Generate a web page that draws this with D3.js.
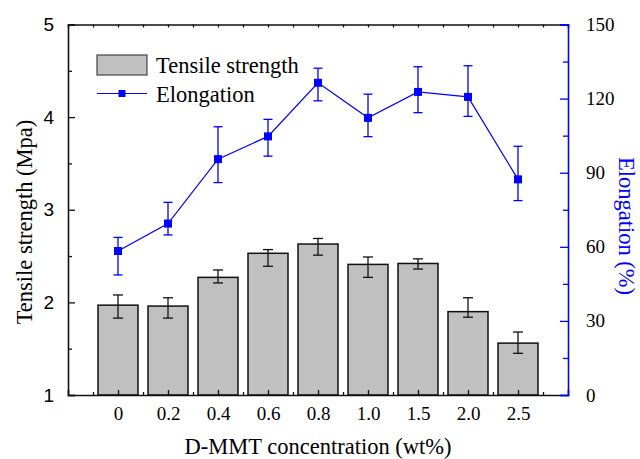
<!DOCTYPE html>
<meta charset="utf-8">
<style>
body { margin: 0; background: #fff; }
svg { display: block; }
</style>
<body>
<svg width="640" height="459"></svg>
<script src="https://d3js.org/d3.v7.min.js"></script>
<script>
// data
var concentrations = ["0", "0.2", "0.4", "0.6", "0.8", "1.0", "1.5", "2.0", "2.5"];

var tensile     = [1.97, 1.96, 2.27, 2.53, 2.63, 2.41, 2.42, 1.90, 1.56];
var tensileHigh = [2.08, 2.05, 2.35, 2.57, 2.69, 2.49, 2.47, 2.05, 1.68];
var tensileLow  = [1.83, 1.83, 2.21, 2.39, 2.51, 2.27, 2.36, 1.84, 1.45];

var elongation     = [58.3, 69.4, 95.5, 104.7, 126.4, 112.2, 122.7, 120.7, 87.3];
var elongationHigh = [63.8, 78.0, 108.6, 111.6, 132.3, 121.8, 132.9, 133.3, 100.7];
var elongationLow  = [48.6, 64.8, 86.0, 96.7, 119.1, 104.6, 114.3, 112.8, 78.7];

var leftTicks = [1, 2, 3, 4, 5];
var rightTicks = [0, 30, 60, 90, 120, 150];

var SERIF = "Liberation Serif";
var SANS = "Liberation Sans";

var margin = {top: 24.5, right: 72, bottom: 64, left: 68};
var width = 640 - margin.left - margin.right,
    height = 459 - margin.top - margin.bottom;

var blue = "#0000ff";

var svg = d3.select("svg");
var g = svg.append("g")
    .attr("transform", "translate(" + margin.left + "," + margin.top + ")");

// categories sit on integer positions, one empty slot at each end
var x = d3.scaleLinear().domain([-1, concentrations.length]).range([0, width]);
var yL = d3.scaleLinear().domain([1, 5]).range([height, 0]);
var yR = d3.scaleLinear().domain([0, 150]).range([height, 0]);

var idx = d3.range(concentrations.length);
var halves = d3.range(-0.5, concentrations.length, 1);

// bars
var barW = (x(1) - x(0)) * 0.8;
g.selectAll(".bar")
  .data(idx)
  .enter().append("rect")
    .attr("class", "bar")
    .attr("x", function(i) { return x(i) - barW / 2; })
    .attr("y", function(i) { return yL(tensile[i]); })
    .attr("width", barW)
    .attr("height", function(i) { return yL(1) - yL(tensile[i]); })
    .style("fill", "#c0c0c0")
    .style("stroke", "#111")
    .style("stroke-width", 1.5);

// bar error bars
var eb = g.selectAll(".terr").data(idx).enter().append("g").attr("class", "terr")
    .style("stroke", "#111").style("stroke-width", 1.3);
eb.append("line")
    .attr("x1", function(i) { return x(i); }).attr("x2", function(i) { return x(i); })
    .attr("y1", function(i) { return yL(tensileLow[i]); })
    .attr("y2", function(i) { return yL(tensileHigh[i]); });
eb.append("line")
    .attr("x1", function(i) { return x(i) - 5; }).attr("x2", function(i) { return x(i) + 5; })
    .attr("y1", function(i) { return yL(tensileHigh[i]); })
    .attr("y2", function(i) { return yL(tensileHigh[i]); });
eb.append("line")
    .attr("x1", function(i) { return x(i) - 5; }).attr("x2", function(i) { return x(i) + 5; })
    .attr("y1", function(i) { return yL(tensileLow[i]); })
    .attr("y2", function(i) { return yL(tensileLow[i]); });

// axes: ticks point inward
var bottomMinor = d3.axisBottom(x).tickValues(halves).tickSize(-3).tickFormat("");
var bottomMajor = d3.axisBottom(x).tickValues(idx).tickSize(-5).tickPadding(12)
    .tickFormat(function(i) { return concentrations[i]; });
var topAxis = d3.axisTop(x).tickValues(halves.concat(idx)).tickSize(-3).tickFormat("");
var leftMajor = d3.axisLeft(yL).tickValues(leftTicks).tickSize(-7).tickPadding(14)
    .tickFormat(d3.format("d"));
var leftMinor = d3.axisLeft(yL).tickValues([1.5, 2.5, 3.5, 4.5]).tickSize(-4).tickFormat("");
var rightMajor = d3.axisRight(yR).tickValues(rightTicks).tickSize(-8).tickPadding(18)
    .tickFormat(d3.format("d"));
var rightMinor = d3.axisRight(yR).tickValues([15, 45, 75, 105, 135]).tickSize(-5).tickFormat("");

function styleAxis(sel, color, family) {
  sel.attr("font-family", family || SERIF).attr("font-size", 19);
  sel.select(".domain").style("stroke", color).style("stroke-width", 1.6);
  sel.selectAll(".tick line").style("stroke", color).style("stroke-width", 1.3);
  sel.selectAll(".tick text").style("fill", "#000");
}

var gb = g.append("g").attr("transform", "translate(0," + height + ")").call(bottomMajor);
gb.call(styleAxis, "#111", SERIF);
var gb2 = g.append("g").attr("transform", "translate(0," + height + ")").call(bottomMinor);
gb2.call(styleAxis, "#111");
gb2.select(".domain").remove();

var gt = g.append("g").call(topAxis);
gt.call(styleAxis, "#111");

var gl = g.append("g").call(leftMajor);
gl.call(styleAxis, "#111", SANS);
var gl2 = g.append("g").call(leftMinor);
gl2.call(styleAxis, "#111");
gl2.select(".domain").remove();

var gr = g.append("g").attr("transform", "translate(" + width + ",0)").call(rightMajor);
gr.call(styleAxis, blue, SERIF);
var gr2 = g.append("g").attr("transform", "translate(" + width + ",0)").call(rightMinor);
gr2.call(styleAxis, blue);
gr2.select(".domain").remove();

// elongation line with error bars
var line = d3.line()
    .x(function(i) { return x(i); })
    .y(function(i) { return yR(elongation[i]); });

var ee = g.selectAll(".eerr").data(idx).enter().append("g").attr("class", "eerr")
    .style("stroke", blue).style("stroke-width", 1.3);
ee.append("line")
    .attr("x1", function(i) { return x(i); }).attr("x2", function(i) { return x(i); })
    .attr("y1", function(i) { return yR(elongationLow[i]); })
    .attr("y2", function(i) { return yR(elongationHigh[i]); });
ee.append("line")
    .attr("x1", function(i) { return x(i) - 4.5; }).attr("x2", function(i) { return x(i) + 4.5; })
    .attr("y1", function(i) { return yR(elongationHigh[i]); })
    .attr("y2", function(i) { return yR(elongationHigh[i]); });
ee.append("line")
    .attr("x1", function(i) { return x(i) - 4.5; }).attr("x2", function(i) { return x(i) + 4.5; })
    .attr("y1", function(i) { return yR(elongationLow[i]); })
    .attr("y2", function(i) { return yR(elongationLow[i]); });

g.append("path")
    .datum(idx)
    .attr("d", line)
    .style("fill", "none")
    .style("stroke", blue)
    .style("stroke-width", 1.2);

g.selectAll(".pt")
  .data(idx)
  .enter().append("rect")
    .attr("class", "pt")
    .attr("x", function(i) { return x(i) - 4; })
    .attr("y", function(i) { return yR(elongation[i]) - 4; })
    .attr("width", 8)
    .attr("height", 8)
    .style("fill", blue);

// axis titles
svg.append("text")
    .attr("x", margin.left + width / 2)
    .attr("y", 454)
    .attr("text-anchor", "middle")
    .attr("font-family", SERIF)
    .attr("font-size", 22.5)
    .text("D-MMT concentration (wt%)");

svg.append("text")
    .attr("transform", "translate(32,222) rotate(-90)")
    .attr("text-anchor", "middle")
    .attr("font-family", SERIF)
    .attr("font-size", 22.5)
    .text("Tensile strength (Mpa)");

svg.append("text")
    .attr("transform", "translate(619,226) rotate(90)")
    .attr("text-anchor", "middle")
    .attr("font-family", SERIF)
    .attr("font-size", 22.5)
    .attr("fill", blue)
    .text("Elongation (%)");

// legend
var lg = svg.append("g").attr("font-family", SERIF).attr("font-size", 22.5);
lg.append("rect")
    .attr("x", 97).attr("y", 55).attr("width", 50).attr("height", 20)
    .style("fill", "#c0c0c0").style("stroke", "#444").style("stroke-width", 1.2);
lg.append("text")
    .attr("x", 156).attr("y", 73)
    .text("Tensile strength");
lg.append("line")
    .attr("x1", 97).attr("x2", 147).attr("y1", 93.5).attr("y2", 93.5)
    .style("stroke", blue).style("stroke-width", 1.2);
lg.append("rect")
    .attr("x", 118.5).attr("y", 90).attr("width", 7).attr("height", 7)
    .style("fill", blue);
lg.append("text")
    .attr("x", 156).attr("y", 102)
    .text("Elongation");
</script>
</body>
